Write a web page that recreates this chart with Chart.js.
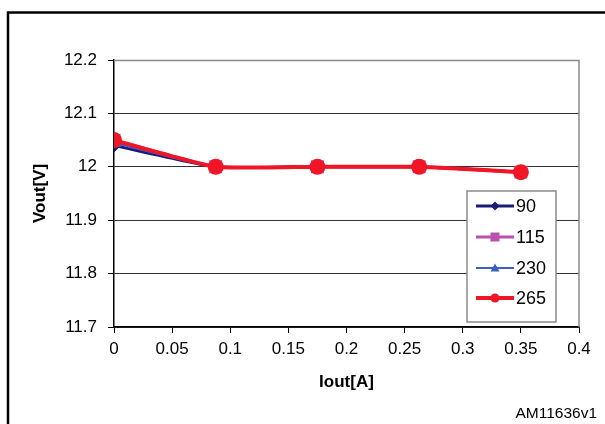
<!DOCTYPE html>
<html lang="en">
<head>
  <meta charset="UTF-8" />
  <title>Vout vs Iout</title>
  <script src="https://cdn.jsdelivr.net/npm/chart.js"></script>
  <style>
    html, body { margin: 0; padding: 0; background: #fff; }
    #wrap { width: 605px; height: 424px; position: relative; }
  </style>
</head>
<body>
  <div id="wrap"><canvas id="voutChart" width="605" height="424"></canvas></div>

  <script>
    // load points, Iout in A
    const iout = [0, 0.0875, 0.175, 0.2625, 0.35];
    // Vout in V for each input voltage
    const v90  = [12.04, 12.00, 12.00, 12.00, 11.99];
    const v115 = [12.05, 12.00, 12.00, 12.00, 11.99];
    const v230 = [12.045, 12.00, 12.00, 12.00, 11.99];
    const v265 = [12.05, 12.00, 12.00, 12.00, 11.99];
    const seriesNames = ['90', '115', '230', '265'];
    const xTicks = [0, 0.05, 0.1, 0.15, 0.2, 0.25, 0.3, 0.35, 0.4];
    const yTicks = [11.7, 11.8, 11.9, 12, 12.1, 12.2];

    const FONT = '"Liberation Sans", Arial, sans-serif';

    const pts = vals => iout.map((x, i) => ({ x: x, y: vals[i] }));

    const datasets = [
      { label: seriesNames[0], data: pts(v90),  borderColor: '#1c1c78', backgroundColor: '#1c1c78',
        pointStyle: 'rectRot', pointRadius: 5, borderWidth: 3, order: 4 },
      { label: seriesNames[1], data: pts(v115), borderColor: '#b94fae', backgroundColor: '#b94fae',
        pointStyle: 'rect', pointRadius: 7, borderWidth: 3, order: 3 },
      { label: seriesNames[2], data: pts(v230), borderColor: '#3d5ec0', backgroundColor: '#3d5ec0',
        pointStyle: 'triangle', pointRadius: 6, borderWidth: 2, order: 2 },
      { label: seriesNames[3], data: pts(v265), borderColor: '#f01626', backgroundColor: '#f01626',
        pointStyle: 'circle', pointRadius: 6, borderWidth: 4, order: 1 }
    ];

    // frame, plot border, in-plot legend and figure code
    const decor = {
      id: 'decor',
      beforeDatasetsDraw(chart) {
        const { ctx, chartArea: a } = chart;
        ctx.save();
        ctx.strokeStyle = '#8a8a8a';
        ctx.lineWidth = 1.5;
        ctx.beginPath();
        ctx.moveTo(a.left, a.top + 0.5);
        ctx.lineTo(a.right, a.top + 0.5);
        ctx.lineTo(a.right, a.bottom);
        ctx.stroke();
        ctx.restore();
      },
      afterDraw(chart) {
        const { ctx } = chart;
        ctx.save();
        // outer frame
        ctx.strokeStyle = '#000';
        ctx.lineWidth = 2.5;
        ctx.beginPath();
        ctx.moveTo(8, 430);
        ctx.lineTo(8, 12.5);
        ctx.lineTo(610, 12.5);
        ctx.stroke();

        // legend box
        const bx = 467, by = 191, bw = 89, bh = 131;
        ctx.fillStyle = '#fff';
        ctx.fillRect(bx, by, bw, bh);
        ctx.strokeStyle = '#8a8a8a';
        ctx.lineWidth = 1.5;
        ctx.strokeRect(bx, by, bw, bh);

        const rowY = [206, 237, 268, 298];
        chart.data.datasets.forEach((ds, i) => {
          const y = rowY[i];
          ctx.strokeStyle = ds.borderColor;
          ctx.lineWidth = ds.borderWidth;
          ctx.beginPath();
          ctx.moveTo(476, y);
          ctx.lineTo(514, y);
          ctx.stroke();
          ctx.fillStyle = ds.backgroundColor;
          const cx = 495, r = 4.5;
          ctx.beginPath();
          if (ds.pointStyle === 'rectRot') {
            ctx.moveTo(cx, y - r); ctx.lineTo(cx + r, y); ctx.lineTo(cx, y + r); ctx.lineTo(cx - r, y);
          } else if (ds.pointStyle === 'rect') {
            ctx.rect(cx - r, y - r, 2 * r, 2 * r);
          } else if (ds.pointStyle === 'triangle') {
            ctx.moveTo(cx, y - r); ctx.lineTo(cx + r, y + r * 0.8); ctx.lineTo(cx - r, y + r * 0.8);
          } else {
            ctx.arc(cx, y, r, 0, Math.PI * 2);
          }
          ctx.closePath();
          ctx.fill();
          ctx.fillStyle = '#000';
          ctx.font = '18px ' + FONT;
          ctx.textAlign = 'left';
          ctx.textBaseline = 'middle';
          ctx.fillText(ds.label, 516, y + 1);
        });

        ctx.font = '15.5px ' + FONT;
        ctx.textAlign = 'right';
        ctx.textBaseline = 'alphabetic';
        ctx.fillText('AM11636v1', 597, 418);
        ctx.restore();
      }
    };

    new Chart(document.getElementById('voutChart'), {
      type: 'line',
      data: { datasets: datasets },
      options: {
        responsive: false,
        animation: false,
        events: [],
        layout: { padding: { left: 0, top: 60, right: 26, bottom: 0 } },
        elements: { line: { tension: 0.15 } },
        plugins: { legend: { display: false }, tooltip: { enabled: false } },
        scales: {
          x: {
            type: 'linear',
            min: 0, max: 0.4,
            afterBuildTicks: s => { s.ticks = xTicks.map(v => ({ value: v })); },
            afterFit: s => { s.height = 97; },
            border: { color: '#000', width: 1.5 },
            grid: { drawOnChartArea: false, drawTicks: true, tickLength: 6, color: '#000' },
            ticks: { color: '#000', padding: 6, maxRotation: 0, font: { family: FONT, size: 17 },
                     callback: v => String(v) },
            title: { display: true, text: 'Iout[A]', color: '#000',
                     font: { family: FONT, size: 17, weight: 'bold' }, padding: { top: 0, bottom: 31 } }
          },
          y: {
            min: 11.7, max: 12.2,
            afterBuildTicks: s => { s.ticks = yTicks.map(v => ({ value: v })); },
            afterFit: s => { s.width = 114; },
            border: { color: '#000', width: 1.5 },
            grid: { color: '#333', lineWidth: 1, drawTicks: true, tickLength: 6, tickColor: '#000' },
            ticks: { color: '#000', padding: 11, font: { family: FONT, size: 17 },
                     callback: v => String(Math.round(v * 10) / 10) },
            title: { display: true, text: 'Vout[V]', color: '#000',
                     font: { family: FONT, size: 17, weight: 'bold' }, padding: { top: 30, bottom: 0 } }
          }
        }
      },
      plugins: [decor]
    });
  </script>
</body>
</html>
